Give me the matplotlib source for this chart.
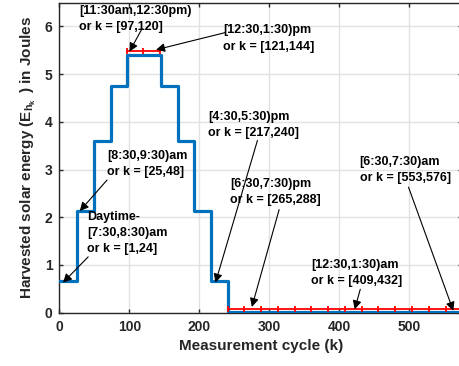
import matplotlib
matplotlib.use('Agg')

import matplotlib.pyplot as plt

# Hour start cycles (24 cycles per hour) and harvested energy per hour
hour_start = [1, 25, 49, 73, 97, 121, 145, 169, 193, 217, 241, 265, 289, 313,
              337, 361, 385, 409, 433, 457, 481, 505, 529, 553]
energy = [0.66, 2.13, 3.60, 4.75, 5.41, 5.41, 4.75, 3.60, 2.13, 0.66, 0.02, 0.02,
          0.02, 0.02, 0.02, 0.02, 0.02, 0.02, 0.02, 0.02, 0.02, 0.02, 0.02, 0.02]
last_cycle = 576

# Highlighted (red) segments: peak hours and night hours
peak_k = [97, 120, 144]
peak_e = [5.48, 5.48, 5.48]
night_k = [241, 264, 288, 312, 336, 360, 384, 408, 432, 456, 480, 504, 528, 552, 576]
night_e = [0.07] * len(night_k)

# Annotation texts, text anchors (k, E) and arrows (tail -> head)
notes = ["[11:30am,12:30pm)\nor k = [97,120]",
         "[12:30,1:30)pm\nor k = [121,144]",
         "[8:30,9:30)am\nor k = [25,48]",
         "Daytime-\n[7:30,8:30)am\nor k = [1,24]",
         "[4:30,5:30)pm\nor k = [217,240]",
         "[6:30,7:30)pm\nor k = [265,288]",
         "[6:30,7:30)am\nor k = [553,576]",
         "[12:30,1:30)am\nor k = [409,432]"]
note_pos = [(28, 6.45), (234, 6.04), (68, 3.42), (40, 2.13),
            (213, 4.22), (244, 2.82), (429, 3.28), (360, 1.12)]
arrow_tail = [(118, 5.95), (237, 5.87), (68, 2.78), (41, 1.17),
              (283, 3.61), (314, 2.16), (499, 2.63), (430, 0.49)]
arrow_head = [(100, 5.47), (138, 5.51), (29, 2.13), (5, 0.63),
              (223, 0.63), (275, 0.12), (563, 0.04), (422, 0.07)]

plt.rcParams['font.family'] = ['Liberation Sans', 'DejaVu Sans']
plt.rcParams['font.weight'] = 'bold'
plt.rcParams['mathtext.fontset'] = 'custom'
plt.rcParams['mathtext.rm'] = 'Liberation Sans:bold'
plt.rcParams['mathtext.it'] = 'Liberation Sans:bold'
plt.rcParams['mathtext.bf'] = 'Liberation Sans:bold'

dark = '#262626'
fig = plt.figure(figsize=(4.59, 3.66), dpi=100)
ax = fig.add_axes([0.1296, 0.1456, 0.8778, 0.8475])

xs = hour_start + [last_cycle]
ys = energy + [energy[-1]]
ax.plot(xs, ys, drawstyle='steps-post', color='#0072BD', lw=2.3, zorder=3)
ax.plot(peak_k, peak_e, color='red', lw=1.3, marker='|', ms=5, mew=1.3, zorder=4)
ax.plot(night_k, night_e, color='red', lw=1.3, marker='|', ms=5, mew=1.3, zorder=4)

for txt, pos in zip(notes, note_pos):
    ax.text(pos[0], pos[1], txt, fontsize=9, fontweight='bold', color='k',
            ha='left', va='top', linespacing=1.45, zorder=5)
for tail, head in zip(arrow_tail, arrow_head):
    ax.annotate('', xy=head, xytext=tail,
                arrowprops=dict(arrowstyle='-|>', color='k', lw=0.8,
                                mutation_scale=13, shrinkA=0, shrinkB=0),
                zorder=5)

ax.set_xlim(0, 576)
ax.set_ylim(0, 6.5)
ax.set_xticks([0, 100, 200, 300, 400, 500])
ax.set_yticks([0, 1, 2, 3, 4, 5, 6])
ax.grid(True, color='#e2e2e2', lw=1.0)
ax.set_axisbelow(True)
ax.tick_params(direction='in', length=3, width=1, colors=dark, labelsize=10,
               top=True, right=True, pad=5)
for lab in ax.get_xticklabels() + ax.get_yticklabels():
    lab.set_fontweight('bold')
for sp in ax.spines.values():
    sp.set_color(dark)
    sp.set_linewidth(1.0)

ax.set_xlabel('Measurement cycle (k)', fontsize=11, fontweight='bold', color=dark, labelpad=4)
ax.set_ylabel(r'Harvested solar energy ($\mathbf{E}_{\mathbf{h}_{\mathbf{k}}}\,$ ) in Joules',
              fontsize=11, fontweight='bold', color=dark, labelpad=5)

plt.savefig('out.png', dpi=100)
plt.close()
